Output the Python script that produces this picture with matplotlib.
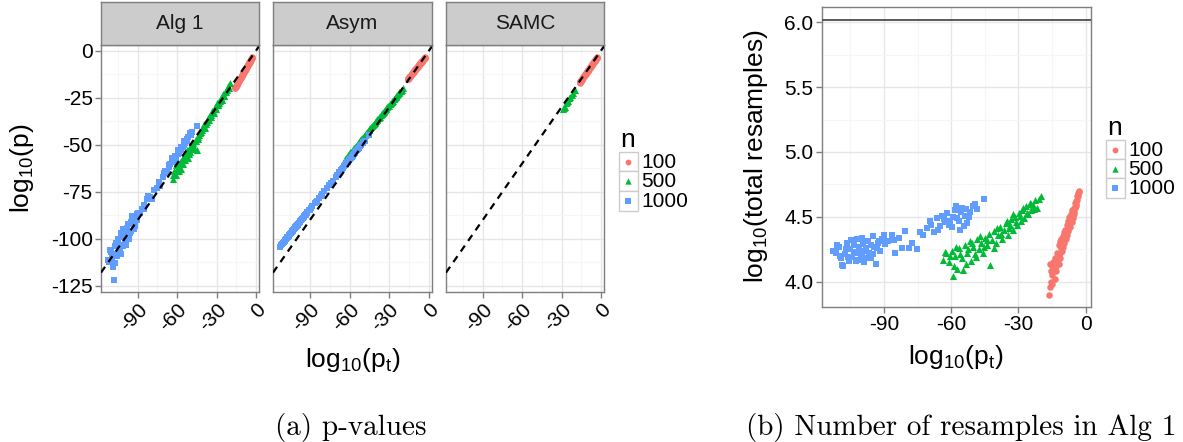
import matplotlib
matplotlib.use("Agg")
import matplotlib.pyplot as plt
from matplotlib.patches import Rectangle

plt.rcParams["font.family"] = ["Liberation Sans", "DejaVu Sans"]
plt.rcParams["mathtext.fontset"] = "custom"
plt.rcParams["mathtext.rm"] = "Liberation Sans"
plt.rcParams["mathtext.it"] = "Liberation Sans"
plt.rcParams["mathtext.default"] = "regular"
plt.rcParams["axes.unicode_minus"] = False

W, H = 1183, 442

# ---- data ----
groups = ["100", "500", "1000"]
methods = ["Alg 1", "Asym", "SAMC"]

# n = 100
pt_100 = [-16.2, -15.8, -15.4, -15.0, -14.6, -14.2, -13.8, -13.4, -13.0, -12.7,
          -12.3, -12.0, -11.6, -11.3, -11.0, -10.7, -10.4, -10.1, -9.8, -9.5,
          -9.2, -8.9, -8.6, -8.3, -8.0, -7.7, -7.4, -7.1, -6.8, -6.5,
          -6.2, -5.9, -5.6, -5.3, -5.0, -4.7, -4.4, -4.1, -3.7, -3.3, -2.9,
          -15.9, -15.6, -15.2, -14.8, -14.4, -13.6, -12.9, -12.1, -11.4, -10.9,
          -10.2, -9.6, -9.0, -8.4, -7.8, -7.2, -6.6, -6.0, -5.4, -4.9,
          -4.3, -3.9, -3.5, -3.1]
alg1_100 = [-20.1, -19.5, -19.2, -18.6, -18.0, -17.6, -17.0, -16.6, -16.1, -15.7,
            -15.2, -14.9, -14.3, -14.0, -13.6, -13.2, -12.8, -12.5, -12.1, -11.7,
            -11.4, -11.0, -10.6, -10.3, -9.9, -9.5, -9.2, -8.8, -8.4, -8.1,
            -7.7, -7.3, -6.9, -6.6, -6.2, -5.8, -5.5, -5.1, -4.6, -4.1, -3.6,
            -19.7, -19.3, -18.8, -18.3, -17.8, -16.8, -16.0, -15.0, -14.1, -13.5,
            -12.6, -11.9, -11.1, -10.4, -9.7, -8.9, -8.2, -7.4, -6.7, -6.0,
            -5.3, -4.8, -4.3, -3.8]
asym_100 = [-15.2, -14.8, -14.5, -14.1, -13.8, -13.4, -13.1, -12.7, -12.4, -12.1,
            -11.8, -11.5, -11.1, -10.9, -10.6, -10.3, -10.1, -9.8, -9.5, -9.3,
            -9.0, -8.8, -8.5, -8.2, -8.0, -7.7, -7.4, -7.2, -6.9, -6.7,
            -6.4, -6.1, -5.9, -5.6, -5.4, -5.1, -4.8, -4.6, -4.2, -3.9, -3.5,
            -14.9, -14.6, -14.3, -13.9, -13.6, -12.9, -12.3, -11.6, -11.0, -10.5,
            -9.9, -9.4, -8.9, -8.3, -7.8, -7.3, -6.8, -6.2, -5.7, -5.3,
            -4.8, -4.4, -4.1, -3.7]
samc_100 = [-17.0, -16.6, -16.1, -15.7, -15.3, -14.9, -14.5, -14.0, -13.6, -13.3,
            -12.9, -12.6, -12.2, -11.9, -11.6, -11.3, -11.0, -10.7, -10.4, -10.1,
            -9.8, -9.5, -9.2, -8.9, -8.6, -8.3, -8.0, -7.7, -7.4, -7.1,
            -6.8, -6.5, -6.2, -5.9, -5.6, -5.3, -5.0, -4.7, -4.3, -3.9, -3.5,
            -16.7, -16.3, -15.9, -15.5, -15.1, -14.2, -13.5, -12.7, -12.0, -11.5,
            -10.8, -10.2, -9.6, -9.0, -8.4, -7.8, -7.2, -6.6, -6.0, -5.5,
            -4.9, -4.5, -4.1, -3.7]
resamp_100 = [3.90, 3.96, 4.00, 4.05, 4.10, 4.14, 4.02, 4.12, 4.08, 4.15,
              4.19, 4.14, 4.22, 4.18, 4.26, 4.24, 4.29, 4.27, 4.32, 4.30,
              4.35, 4.33, 4.38, 4.36, 4.41, 4.39, 4.43, 4.45, 4.42, 4.48,
              4.46, 4.51, 4.49, 4.54, 4.52, 4.57, 4.60, 4.58, 4.63, 4.66, 4.70,
              4.14, 4.08, 4.12, 3.98, 4.15, 4.18, 4.22, 4.28, 4.31, 4.33,
              4.35, 4.38, 4.40, 4.44, 4.47, 4.50, 4.52, 4.55, 4.57, 4.61,
              4.62, 4.66, 4.68, 4.69]

# n = 500
pt_500 = [-63.5, -62.1, -61.0, -59.8, -59.4, -58.3, -57.2, -56.5, -55.4, -54.6,
          -53.7, -52.9, -51.8, -51.0, -50.2, -49.3, -48.5, -47.6, -46.8, -45.9,
          -45.0, -44.2, -43.3, -42.5, -41.6, -40.7, -39.9, -39.0, -38.1, -37.3,
          -36.4, -35.6, -34.8, -33.9, -33.1, -32.2, -31.4, -30.5, -29.7, -28.9,
          -28.2, -27.4, -26.6, -25.8, -25.0, -24.2, -23.3, -22.4, -21.5, -19.9,
          -62.8, -60.5, -58.8, -57.8, -55.9, -53.2, -52.3, -50.6, -48.9, -47.1,
          -45.4, -43.8, -41.1, -39.4, -37.8, -35.2, -34.2, -32.6, -30.9, -29.2,
          -27.8, -26.2, -24.6, -22.9, -20.6]
alg1_500 = [-68, -64, -66, -63, -62, -60, -63, -58, -60, -56,
            -58, -54, -57, -52, -54, -50, -52, -49, -51, -47,
            -53, -46, -45, -44, -43, -42, -40, -41, -38, -38,
            -36, -37, -34, -34, -32, -33, -30, -31, -28, -29,
            -27, -27, -25, -26, -23, -24, -22, -21, -19, -17,
            -66, -61, -64, -59, -58, -57, -53, -55, -50, -52,
            -48, -47, -41, -39, -39, -35, -35, -32, -31, -29,
            -28, -26, -24, -22, -20]
asym_500 = [-57.6, -56.4, -55.5, -54.5, -54.1, -53.2, -52.2, -51.6, -50.7, -50.0,
            -49.2, -48.5, -47.6, -46.9, -46.2, -45.4, -44.7, -43.9, -43.2, -42.5,
            -41.7, -41.0, -40.2, -39.5, -38.8, -38.0, -37.3, -36.5, -35.8, -35.1,
            -34.3, -33.6, -32.9, -32.2, -31.5, -30.7, -30.0, -29.2, -28.5, -27.8,
            -27.2, -26.5, -25.8, -25.1, -24.4, -23.7, -22.9, -22.1, -21.4, -20.0,
            -57.0, -55.0, -53.6, -52.7, -51.1, -48.8, -48.0, -46.5, -45.1, -43.5,
            -42.1, -40.7, -38.3, -36.9, -35.5, -33.3, -32.4, -31.0, -29.6, -28.1,
            -26.9, -25.5, -24.1, -22.7, -20.7]
resamp_500 = [4.17, 4.22, 4.15, 4.24, 4.04, 4.20, 4.10, 4.26, 4.18, 4.09,
              4.28, 4.22, 4.31, 4.16, 4.27, 4.21, 4.33, 4.25, 4.30, 4.22,
              4.34, 4.28, 4.37, 4.13, 4.32, 4.39, 4.30, 4.36, 4.42, 4.33,
              4.40, 4.45, 4.36, 4.44, 4.48, 4.40, 4.50, 4.44, 4.53, 4.47,
              4.55, 4.49, 4.58, 4.52, 4.61, 4.55, 4.59, 4.63, 4.57, 4.66,
              4.23, 4.20, 4.12, 4.27, 4.21, 4.14, 4.25, 4.30, 4.19, 4.35,
              4.27, 4.32, 4.26, 4.41, 4.37, 4.47, 4.41, 4.52, 4.46, 4.51,
              4.57, 4.53, 4.60, 4.56, 4.64]
# SAMC only returned values for the easier n = 500 cases
samc_pt_500 = [-28.9, -28.2, -27.4, -26.6, -25.8, -25.0, -24.2, -23.3, -22.4, -21.5, -19.9]
samc_500 = [-31.0, -30.5, -29.8, -28.0, -27.2, -26.9, -25.4, -24.6, -23.8, -22.5, -21.0]

# n = 1000
pt_1000 = [-112.8, -111.5, -110.2, -109.0, -108.1, -107.3, -106.5, -105.8, -105.0, -104.2,
           -103.6, -102.9, -102.1, -101.5, -100.8, -100.0, -99.3, -98.7, -98.0, -97.2,
           -96.5, -95.9, -95.1, -94.3, -93.6, -92.8, -91.9, -90.7, -89.5, -88.2,
           -86.5, -84.9, -83.1, -80.6, -79.0, -77.4, -75.2, -72.8,
           -70.6, -69.1, -67.8, -66.5, -65.2, -64.0, -62.9, -61.8, -60.6, -59.5,
           -58.4, -57.3, -56.2, -55.1, -54.0, -52.8, -51.5, -50.2, -48.7, -45.2,
           -111.0, -109.6, -108.6, -107.0, -106.0, -104.6, -103.2, -102.5, -101.0, -100.4,
           -99.6, -98.4, -97.6, -96.0, -94.8, -93.2, -92.2, -90.2,
           -69.6, -66.0, -63.4, -61.2, -59.0, -57.8, -56.7, -55.6, -54.5, -53.4,
           -52.2, -49.5, -85.5, -81.8, -74.0]
alg1_1000 = [-111, -112, -107, -113, -122, -113, -102, -108, -100, -107,
             -104, -108, -99, -103, -95, -102, -98, -103, -96, -92,
             -100, -92, -96, -88, -92, -95, -89, -90, -86, -86,
             -84, -84, -79, -78, -79, -74, -73, -72,
             -67, -64, -65, -61, -60, -57, -59, -56, -56, -53,
             -54, -51, -51, -48, -49, -47, -46, -44, -43, -40,
             -106, -110, -115, -104, -109, -101, -105, -97, -104, -98,
             -101, -94, -99, -97, -91, -90, -93, -87,
             -65, -62, -58, -58, -55, -53, -52, -51, -50, -48,
             -48, -45, -82, -77, -70]
asym_1000 = [-104.3, -103.2, -102.0, -101.0, -100.2, -99.4, -98.8, -98.1, -97.5, -96.8,
             -96.2, -95.6, -94.9, -94.4, -93.8, -93.1, -92.4, -91.9, -91.3, -90.6,
             -89.9, -89.4, -88.7, -88.0, -87.4, -86.7, -85.9, -84.8, -83.8, -82.6,
             -81.1, -79.7, -78.1, -75.9, -74.5, -73.1, -71.2, -69.0,
             -67.1, -65.8, -64.6, -63.5, -62.3, -61.3, -60.3, -59.4, -58.3, -57.4,
             -56.4, -55.4, -54.5, -53.5, -52.5, -51.5, -50.3, -49.2, -47.9, -44.8,
             -102.7, -101.4, -100.6, -99.2, -98.3, -97.1, -95.9, -95.3, -93.9, -93.4,
             -92.6, -91.7, -91.0, -89.6, -88.5, -87.1, -86.2, -84.4,
             -66.2, -63.1, -60.8, -58.9, -56.9, -55.9, -54.9, -53.9, -53.0, -52.0,
             -50.9, -48.6, -80.2, -77.0, -70.1]
resamp_1000 = [4.24, 4.22, 4.27, 4.18, 4.12, 4.21, 4.30, 4.16, 4.25, 4.19,
               4.28, 4.22, 4.33, 4.17, 4.24, 4.20, 4.29, 4.15, 4.26, 4.31,
               4.22, 4.18, 4.35, 4.27, 4.14, 4.30, 4.24, 4.33, 4.29, 4.31,
               4.36, 4.22, 4.34, 4.39, 4.26, 4.30, 4.25, 4.36,
               4.41, 4.44, 4.38, 4.49, 4.43, 4.51, 4.46, 4.53, 4.47, 4.42,
               4.55, 4.49, 4.40, 4.57, 4.51, 4.45, 4.54, 4.58, 4.56, 4.64,
               4.28, 4.20, 4.13, 4.25, 4.19, 4.32, 4.23, 4.16, 4.27, 4.21,
               4.34, 4.24, 4.18, 4.28, 4.21, 4.26, 4.31, 4.36,
               4.47, 4.40, 4.48, 4.44, 4.50, 4.58, 4.47, 4.54, 4.43, 4.56,
               4.50, 4.60, 4.32, 4.26, 4.38]

max_resamples = 6.02  # log10 of the resample cap

p_ticks = [-125, -100, -75, -50, -25, 0]
p_minor = [-112.5, -87.5, -62.5, -37.5, -12.5]
pt_ticks = [-90, -60, -30, 0]
pt_minor = [-105, -75, -45, -15]
r_ticks = [4.0, 4.5, 5.0, 5.5, 6.0]
r_minor = [4.25, 4.75, 5.25, 5.75]

panel_data = {
    "Alg 1": {"100": (pt_100, alg1_100), "500": (pt_500, alg1_500), "1000": (pt_1000, alg1_1000)},
    "Asym": {"100": (pt_100, asym_100), "500": (pt_500, asym_500), "1000": (pt_1000, asym_1000)},
    "SAMC": {"100": (pt_100, samc_100), "500": (samc_pt_500, samc_500)},
}
resamp_data = {"100": (pt_100, resamp_100), "500": (pt_500, resamp_500), "1000": (pt_1000, resamp_1000)}

COLORS = {"100": "#F8766D", "500": "#00BA38", "1000": "#619CFF"}
MARKERS = {"100": "o", "500": "^", "1000": "s"}
SIZES = {"100": 22, "500": 26, "1000": 18}
BORDER = "#7F7F7F"


def px_axes(fig, x0, y0, x1, y1):
    return fig.add_axes([x0 / W, 1 - y1 / H, (x1 - x0) / W, (y1 - y0) / H])


def style_panel(ax, xlim, ylim, xt, xm, yt, ym):
    ax.set_xlim(*xlim)
    ax.set_ylim(*ylim)
    ax.set_xticks(xt)
    ax.set_xticks(xm, minor=True)
    ax.set_yticks(yt)
    ax.set_yticks(ym, minor=True)
    ax.grid(which="major", color="#E6E6E6", lw=1.0)
    ax.grid(which="minor", color="#F6F6F6", lw=0.8)
    ax.set_axisbelow(True)
    for s in ax.spines.values():
        s.set_color(BORDER)
        s.set_linewidth(1.0)
    ax.tick_params(which="major", length=4, width=1, color=BORDER, labelsize=15, pad=2)
    ax.tick_params(which="minor", length=0)


def scatter_groups(ax, data):
    for g in groups:
        if g not in data:
            continue
        xs, ys = data[g]
        ax.scatter(xs, ys, s=SIZES[g], c=COLORS[g], marker=MARKERS[g], linewidths=0, zorder=2)


def draw_legend(ov, x0, title_base, key_top, key_w, key_h):
    ov.text(x0 + 1.5, title_base, "n", fontsize=19, ha="left", va="baseline")
    for i, g in enumerate(groups):
        y0 = key_top + i * key_h
        ov.add_patch(Rectangle((x0, y0), key_w, key_h, fc="white", ec="#CCCCCC", lw=1.0))
        ov.scatter([x0 + key_w / 2], [y0 + key_h / 2], s=SIZES[g] * 0.8, c=COLORS[g],
                   marker=MARKERS[g], linewidths=0)
        ov.text(x0 + key_w + 3, y0 + key_h / 2 + 0.5, g, fontsize=15, ha="left", va="center")


fig = plt.figure(figsize=(W / 100, H / 100), dpi=100)

# ---- (a) faceted p-value panels ----
panel_x = [(101, 259), (273, 432), (446, 604)]
for k, (m, (x0, x1)) in enumerate(zip(methods, panel_x)):
    ax = px_axes(fig, x0, 45, x1, 292)
    style_panel(ax, (-117.9, 2.3), (-128.2, 3.0), pt_ticks, pt_minor, p_ticks, p_minor)
    scatter_groups(ax, panel_data[m])
    ax.axline((0, 0), slope=1, color="black", lw=1.6, ls=(0, (3.2, 2.6)), zorder=3)
    ax.set_xticklabels([str(v) for v in pt_ticks])
    plt.setp(ax.get_xticklabels(), rotation=45, ha="right", va="top", rotation_mode="anchor")
    if k == 0:
        ax.set_yticklabels([str(v) for v in p_ticks])
    else:
        ax.tick_params(axis="y", which="both", left=False, labelleft=False)

    strip = px_axes(fig, x0, 2, x1, 45)
    strip.set_facecolor("#CCCCCC")
    strip.set_xticks([])
    strip.set_yticks([])
    for s in strip.spines.values():
        s.set_color(BORDER)
        s.set_linewidth(1.0)
    strip.text(0.5, 0.5, m, transform=strip.transAxes, fontsize=15, ha="center", va="center",
               color="#1A1A1A")

# ---- (b) resamples panel ----
axb = px_axes(fig, 821.7, 6.7, 1091, 306.7)
style_panel(axb, (-117.8, 2.4), (3.807, 6.12), pt_ticks, pt_minor, r_ticks, r_minor)
scatter_groups(axb, resamp_data)
axb.axhline(max_resamples, color="#4D4D4D", lw=1.3, zorder=3)
axb.set_xticklabels([str(v) for v in pt_ticks])
axb.set_yticklabels([f"{v:.1f}" for v in r_ticks])

# ---- overlay for labels, legends and captions (pixel coordinates) ----
ov = fig.add_axes([0, 0, 1, 1], zorder=10)
ov.set_xlim(0, W)
ov.set_ylim(H, 0)
ov.axis("off")
ov.patch.set_alpha(0)

ov.text(22, 168.5, "log$_{10}$(p)", fontsize=19, rotation=90, ha="center", va="center")
ov.text(352.5, 360, "log$_{10}$(p$_t$)", fontsize=19, ha="center", va="center")
ov.text(756, 156.7, "log$_{10}$(total resamples)", fontsize=19, rotation=90, ha="center", va="center")
ov.text(956, 357, "log$_{10}$(p$_t$)", fontsize=19, ha="center", va="center")

draw_legend(ov, 619, 147, 151.7, 19, 19.7)
draw_legend(ov, 1106, 135, 140, 19, 19.2)

ov.text(351, 428, "(a) p-values", family="cmr10", fontsize=21, ha="center", va="center")
ov.text(961, 428, "(b) Number of resamples in Alg 1", family="cmr10", fontsize=21,
        ha="center", va="center")

fig.savefig("out.png", dpi=100)
